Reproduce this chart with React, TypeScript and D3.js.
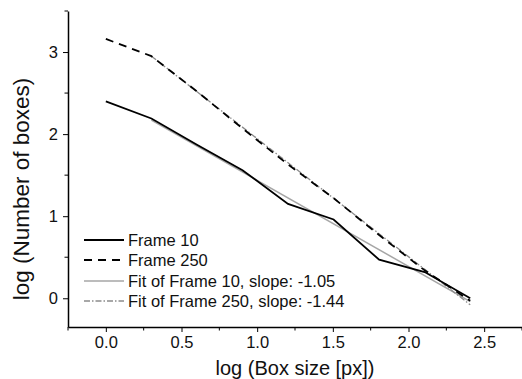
import React, { useEffect, useRef } from 'react';
import * as d3 from 'd3';

// log2-spaced box sizes (log10 values)
const boxSizeLog = [0, 0.301, 0.602, 0.903, 1.204, 1.505, 1.806, 2.107, 2.408];
const frame10 = [2.4, 2.19, 1.87, 1.56, 1.15, 0.96, 0.47, 0.32, 0.0];
const frame250 = [3.16, 2.95, 2.52, 2.07, 1.63, 1.22, 0.77, 0.34, -0.03];
const fit10X = [0.301, 2.408];
const fit10Y = [2.17, -0.04];
const fit250X = [0.301, 2.408];
const fit250Y = [2.95, -0.08];

const xMajor = [0, 0.5, 1, 1.5, 2, 2.5];
const xMinor = [-0.25, 0.25, 0.75, 1.25, 1.75, 2.25, 2.75];
const yMajor = [0, 1, 2, 3];
const yMinor = [0.5, 1.5, 2.5, 3.5];

const legendLabels = ['Frame 10', 'Frame 250', 'Fit of Frame 10, slope: -1.05', 'Fit of Frame 250, slope: -1.44'];

const W = 522, H = 379;
const FONT = '"Liberation Sans", Arial, sans-serif';

const App = () => {
  const svgRef = useRef<SVGSVGElement>(null);

  useEffect(() => {
    const svg = d3.select(svgRef.current);
    svg.selectAll('*').remove();

    const x = d3.scaleLinear().domain([-0.25, 2.75]).range([68, 522]);
    const y = d3.scaleLinear().domain([-0.35, 3.5]).range([327, 11]);

    const styles = [
      { stroke: '#000', width: 1.8, dash: null },
      { stroke: '#000', width: 1.8, dash: '8,6' },
      { stroke: '#a6a6a6', width: 1.5, dash: null },
      { stroke: '#8c8c8c', width: 1.3, dash: '6,2,1.5,2' },
    ];

    const line = d3.line<[number, number]>().x(d => x(d[0])).y(d => y(d[1]));
    const series: [number, number][][] = [
      boxSizeLog.map((v, i) => [v, frame10[i]]),
      boxSizeLog.map((v, i) => [v, frame250[i]]),
      fit10X.map((v, i) => [v, fit10Y[i]]),
      fit250X.map((v, i) => [v, fit250Y[i]]),
    ];

    // fits go under the data
    [2, 3, 0, 1].forEach(k => {
      const s = styles[k];
      svg.append('path').datum(series[k]).attr('fill', 'none')
        .attr('stroke', s.stroke).attr('stroke-width', s.width)
        .attr('stroke-dasharray', s.dash).attr('d', line);
    });

    // x axis
    const gx = svg.append('g').attr('transform', `translate(0,${y.range()[0]})`);
    gx.call(d3.axisBottom(x).tickValues(xMajor).tickSize(5).tickSizeOuter(0).tickPadding(4)
      .tickFormat(d3.format('.1f')));
    xMinor.forEach(v => gx.append('line').attr('x1', x(v)).attr('x2', x(v)).attr('y1', 0).attr('y2', 3.5).attr('stroke', '#000'));

    // y axis
    const gy = svg.append('g').attr('transform', `translate(${x.range()[0]},0)`);
    gy.call(d3.axisLeft(y).tickValues(yMajor).tickSize(5).tickSizeOuter(0).tickPadding(5)
      .tickFormat(d3.format('d')));
    yMinor.forEach(v => gy.append('line').attr('x1', 0).attr('x2', -3.5).attr('y1', y(v)).attr('y2', y(v)).attr('stroke', '#000'));

    [gx, gy].forEach(g => {
      g.select('.domain').attr('stroke', '#000').attr('stroke-width', 1.5);
      g.selectAll('.tick line').attr('stroke', '#000').attr('stroke-width', 1);
      g.selectAll('.tick text').attr('fill', '#111').style('font-family', FONT).style('font-size', '16.5px');
    });

    // axis titles
    svg.append('text').attr('x', 295).attr('y', 375).attr('text-anchor', 'middle')
      .style('font-family', FONT).style('font-size', '20px').attr('fill', '#111')
      .text('log (Box size [px])');
    svg.append('text').attr('transform', 'translate(29,189) rotate(-90)').attr('text-anchor', 'middle')
      .style('font-family', FONT).style('font-size', '22.5px').attr('fill', '#111')
      .text('log (Number of boxes)');

    // legend
    const rows = [240, 260, 281, 301];
    const lg = svg.append('g');
    legendLabels.forEach((lab, i) => {
      const s = styles[i];
      lg.append('line').attr('x1', 84).attr('x2', 124).attr('y1', rows[i]).attr('y2', rows[i])
        .attr('stroke', s.stroke).attr('stroke-width', s.width).attr('stroke-dasharray', s.dash);
      lg.append('text').attr('x', 128).attr('y', rows[i] + 6)
        .style('font-family', FONT).style('font-size', '16.5px').attr('fill', '#111').text(lab);
    });
  }, []);

  return (
    <svg ref={svgRef} width={W} height={H}
      style={{ position: 'absolute', left: 0, top: 0, background: '#fff' }} />
  );
};

export default App;
